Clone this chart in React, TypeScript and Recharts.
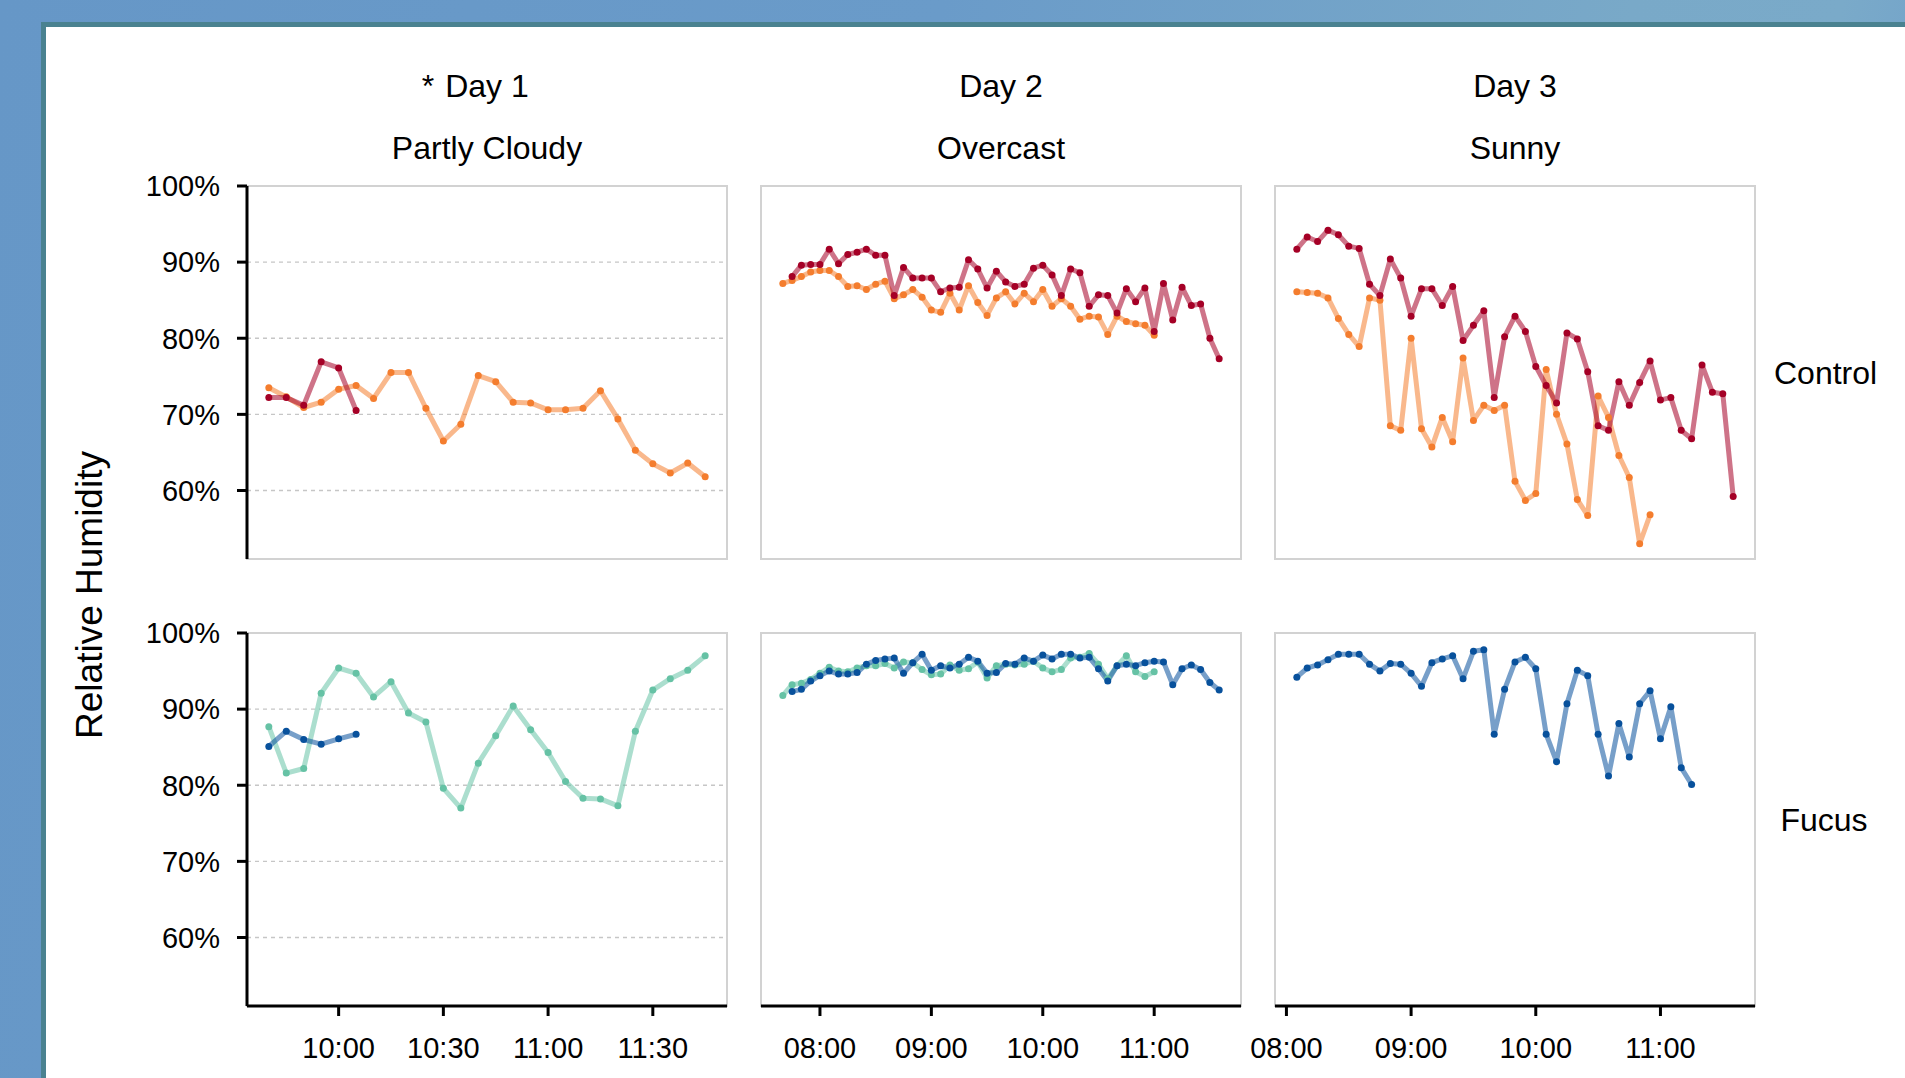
import React from 'react';
import { LineChart, Line, XAxis, YAxis, CartesianGrid, ReferenceArea } from 'recharts';

// ---------- data ----------
const day1Times = ['09:40','09:45','09:50','09:55','10:00','10:05','10:10','10:15','10:20','10:25','10:30','10:35','10:40','10:45','10:50','10:55','11:00','11:05','11:10','11:15','11:20','11:25','11:30','11:35','11:40','11:45'];
const day2Times = ['07:40','07:45','07:50','07:55','08:00','08:05','08:10','08:15','08:20','08:25','08:30','08:35','08:40','08:45','08:50','08:55','09:00','09:05','09:10','09:15','09:20','09:25','09:30','09:35','09:40','09:45','09:50','09:55','10:00','10:05','10:10','10:15','10:20','10:25','10:30','10:35','10:40','10:45','10:50','10:55','11:00','11:05','11:10','11:15','11:20','11:25','11:30','11:35'];
const day3Times = ['08:05','08:10','08:15','08:20','08:25','08:30','08:35','08:40','08:45','08:50','08:55','09:00','09:05','09:10','09:15','09:20','09:25','09:30','09:35','09:40','09:45','09:50','09:55','10:00','10:05','10:10','10:15','10:20','10:25','10:30','10:35','10:40','10:45','10:50','10:55','11:00','11:05','11:10','11:15','11:20','11:25','11:30','11:35'];

const day1ControlA = [73.5, 72.3, 70.9, 71.6, 73.3, 73.8, 72.1, 75.5, 75.5, 70.8, 66.5, 68.7, 75.1, 74.3, 71.6, 71.5, 70.6, 70.6, 70.8, 73.1, 69.4, 65.3, 63.5, 62.3, 63.6, 61.8];
const day1ControlB = [72.2, 72.2, 71.2, 76.9, 76.1, 70.5];
const day1FucusA = [87.7, 81.6, 82.2, 92.1, 95.4, 94.7, 91.6, 93.6, 89.5, 88.3, 79.6, 77.0, 82.9, 86.5, 90.4, 87.3, 84.3, 80.5, 78.3, 78.2, 77.3, 87.1, 92.5, 94.0, 95.1, 97.0];
const day1FucusB = [85.1, 87.1, 86.0, 85.4, 86.1, 86.7];

const day2ControlA = [87.2, 87.6, 88.1, 88.7, 88.9, 88.9, 88.1, 86.8, 86.9, 86.4, 87.1, 87.5, 85.2, 85.7, 86.4, 85.4, 83.7, 83.4, 85.9, 83.7, 86.9, 84.7, 83.0, 85.3, 86.1, 84.5, 85.9, 84.8, 86.4, 84.2, 85.2, 84.2, 82.5, 82.9, 82.8, 80.5, 82.9, 82.2, 81.9, 81.7, 80.4];
const day2ControlB = [null, 88.1, 89.6, 89.7, 89.7, 91.7, 89.8, 91.0, 91.3, 91.7, 90.9, 90.9, 85.6, 89.3, 87.9, 87.9, 87.9, 86.1, 86.6, 86.7, 90.3, 89.1, 86.6, 88.8, 87.4, 86.8, 87.1, 89.2, 89.6, 88.3, 85.6, 89.1, 88.6, 84.2, 85.7, 85.6, 83.3, 86.5, 84.8, 86.6, 80.9, 87.2, 82.4, 86.7, 84.3, 84.5, 80.0, 77.3];
const day2FucusA = [91.8, 93.2, 93.4, 93.9, 94.7, 95.5, 95.0, 94.9, 95.4, 95.7, 95.7, 96.0, 95.4, 96.2, 96.1, 95.2, 94.5, 94.6, 95.8, 95.1, 95.3, 96.2, 94.1, 95.7, 95.9, 95.8, 95.9, 96.3, 95.4, 94.9, 95.2, 96.7, 96.8, 97.3, 95.9, 94.0, 95.7, 97.0, 94.9, 94.3, 94.9];
const day2FucusB = [null, 92.3, 92.6, 93.7, 94.4, 95.0, 94.6, 94.6, 94.8, 95.9, 96.4, 96.6, 96.7, 94.7, 96.1, 97.2, 95.1, 95.7, 95.4, 95.9, 96.8, 96.3, 94.7, 94.8, 96.0, 95.9, 96.7, 96.3, 97.1, 96.6, 97.2, 97.2, 96.7, 96.8, 95.3, 93.7, 95.7, 95.9, 95.7, 96.1, 96.3, 96.2, 93.2, 95.3, 95.8, 95.2, 93.5, 92.5];

const day3ControlA = [86.1, 86.0, 85.9, 85.3, 82.6, 80.5, 78.9, 85.3, 85.0, 68.5, 67.9, 80.0, 68.1, 65.7, 69.6, 66.4, 77.4, 69.2, 71.2, 70.5, 71.2, 61.2, 58.7, 59.6, 75.9, 70.0, 66.1, 58.8, 56.7, 72.4, 69.6, 64.6, 61.7, 53.0, 56.8];
const day3ControlB = [91.7, 93.3, 92.7, 94.2, 93.6, 92.1, 91.8, 87.1, 85.6, 90.4, 87.9, 82.9, 86.5, 86.5, 84.3, 86.8, 79.7, 81.7, 83.6, 72.2, 80.2, 82.9, 80.9, 76.3, 73.8, 71.5, 80.7, 79.9, 75.6, 68.5, 67.9, 74.3, 71.2, 74.2, 77.0, 71.9, 72.2, 67.9, 66.8, 76.5, 72.9, 72.7, 59.2];
const day3FucusA: (number | null)[] = [];
const day3FucusB = [94.2, 95.4, 95.8, 96.5, 97.2, 97.2, 97.2, 95.9, 95.0, 96.0, 95.9, 94.7, 93.0, 96.1, 96.6, 97.0, 94.0, 97.6, 97.8, 86.7, 92.6, 96.2, 96.8, 95.3, 86.7, 83.1, 90.7, 95.1, 94.4, 86.7, 81.2, 88.1, 83.7, 90.7, 92.4, 86.1, 90.3, 82.3, 80.1];

const day1TickLabels = ['10:00', '10:30', '11:00', '11:30'];
const day2TickLabels = ['08:00', '09:00', '10:00', '11:00'];
const day3TickLabels = ['08:00', '09:00', '10:00', '11:00'];
const humidityTicks = [60, 70, 80, 90, 100];

const dayTitles = ['Day 1', 'Day 2', 'Day 3'];
const weatherLabels = ['Partly Cloudy', 'Overcast', 'Sunny'];
const rowLabels = ['Control', 'Fucus'];

// ---------- style ----------
const FONT = '"Liberation Sans", Arial, Helvetica, sans-serif';
const ORANGE = '#f47d2e';
const RED = '#a50026';
const TEAL = '#66c2a5';
const BLUE = '#08519c';

const PLOT_W = 480;
const PLOT_H = 373;
const COL_X = [247, 761, 1275];
const ROW_Y = [186, 633];
const Y_W = 120;
const X_H = 80;
const TOP_M = 30;
const Y_DOMAIN: [number, number] = [51, 100];

const toMin = (s: string) => {
  const [h, m] = s.split(':').map(Number);
  return h * 60 + m;
};
const fmt = (v: number) => {
  const h = Math.floor(v / 60);
  const m = Math.round(v - h * 60);
  return `${String(h).padStart(2, '0')}:${String(m).padStart(2, '0')}`;
};

const YTick = (props: any) => {
  const { x, y, payload } = props;
  return (
    <text
      x={x}
      y={y}
      dy="0.355em"
      textAnchor="end"
      fill="#000"
      fontSize={29}
      fontFamily={FONT}
    >
      {`${payload.value}%`}
    </text>
  );
};

type PanelCfg = {
  col: number;
  row: number;
  times: string[];
  a: (number | null)[];
  b: (number | null)[];
  colorA: string;
  colorB: string;
  ticks: string[];
};

const panels: PanelCfg[] = [
  { col: 0, row: 0, times: day1Times, a: day1ControlA, b: day1ControlB, colorA: ORANGE, colorB: RED, ticks: day1TickLabels },
  { col: 1, row: 0, times: day2Times, a: day2ControlA, b: day2ControlB, colorA: ORANGE, colorB: RED, ticks: day2TickLabels },
  { col: 2, row: 0, times: day3Times, a: day3ControlA, b: day3ControlB, colorA: ORANGE, colorB: RED, ticks: day3TickLabels },
  { col: 0, row: 1, times: day1Times, a: day1FucusA, b: day1FucusB, colorA: TEAL, colorB: BLUE, ticks: day1TickLabels },
  { col: 1, row: 1, times: day2Times, a: day2FucusA, b: day2FucusB, colorA: TEAL, colorB: BLUE, ticks: day2TickLabels },
  { col: 2, row: 1, times: day3Times, a: day3FucusA, b: day3FucusB, colorA: TEAL, colorB: BLUE, ticks: day3TickLabels },
];

function Panel({ p }: { p: PanelCfg }) {
  const data = p.times.map((t, i) => ({
    t: toMin(t),
    a: p.a[i] ?? null,
    b: p.b[i] ?? null,
  }));
  const ts = data.map((d) => d.t);
  const mn = Math.min(...ts);
  const mx = Math.max(...ts);
  const pad = (mx - mn) * 0.05;
  const domain: [number, number] = [mn - pad, mx + pad];
  const isBottom = p.row === 1;
  const isLeft = p.col === 0;
  const width = PLOT_W + Y_W + 10;
  const height = TOP_M + PLOT_H + (isBottom ? X_H : 10);
  const axisStroke = { stroke: '#000', strokeWidth: 3 };
  const tickStyle = { fill: '#000', fontSize: 29, fontFamily: FONT };
  const lineProps = (key: string, color: string) => ({
    type: 'linear' as const,
    dataKey: key,
    stroke: color,
    strokeOpacity: 0.55,
    strokeWidth: 5,
    strokeLinejoin: 'round' as const,
    dot: { r: 3.5, fill: color, fillOpacity: 1, stroke: 'none', strokeWidth: 0, strokeOpacity: 1 },
    activeDot: false as const,
    isAnimationActive: false,
    connectNulls: false,
  });
  return (
    <div style={{ position: 'absolute', left: COL_X[p.col] - Y_W, top: ROW_Y[p.row] - TOP_M }}>
      <LineChart
        width={width}
        height={height}
        data={data}
        margin={{ top: TOP_M, right: 10, bottom: isBottom ? 0 : 10, left: 0 }}
      >
        <CartesianGrid vertical={false} stroke="#c6c6c6" strokeDasharray="4 4" strokeWidth={1.3} />
        <ReferenceArea
          x1={domain[0]}
          x2={domain[1]}
          y1={Y_DOMAIN[0]}
          y2={Y_DOMAIN[1]}
          fill="none"
          fillOpacity={0}
          stroke="#d2d2d2"
          strokeWidth={2}
          ifOverflow="visible"
        />
        <XAxis
          type="number"
          dataKey="t"
          domain={domain}
          ticks={p.ticks.map(toMin)}
          tickFormatter={fmt}
          hide={!isBottom}
          height={X_H}
          tickSize={10}
          tickMargin={21}
          axisLine={axisStroke}
          tickLine={axisStroke}
          tick={tickStyle}
          allowDataOverflow
        />
        <YAxis
          type="number"
          domain={Y_DOMAIN}
          ticks={humidityTicks}
          width={Y_W}
          tickSize={10}
          tickMargin={17}
          axisLine={isLeft ? axisStroke : false}
          tickLine={isLeft ? axisStroke : false}
          tick={isLeft ? <YTick /> : false}
          allowDataOverflow
        />
        <Line {...lineProps('a', p.colorA)} />
        <Line {...lineProps('b', p.colorB)} />
      </LineChart>
    </div>
  );
}

export default function App() {
  return (
    <div
      style={{
        position: 'absolute',
        left: 0,
        top: 0,
        width: 1905,
        height: 1078,
        overflow: 'hidden',
        fontFamily: FONT,
        background: 'linear-gradient(100deg, #6697c7 0%, #6a9bc9 45%, #79a9c8 78%, #7aaac9 88%, #6a9bcb 100%)',
      }}
    >
      <div
        style={{
          position: 'absolute',
          left: 41,
          top: 22,
          width: 1905,
          height: 1100,
          background: '#fff',
          borderTop: '5px solid #4a8290',
          borderLeft: '5px solid #4a8290',
        }}
      />
      {dayTitles.map((t, i) => (
        <div
          key={t}
          style={{
            position: 'absolute',
            left: COL_X[i],
            top: 86 - 16,
            width: PLOT_W,
            textAlign: 'center',
            fontSize: 32,
            lineHeight: '32px',
            color: '#000',
          }}
        >
          <span style={{ position: 'relative' }}>
            {i === 0 && (
              <span style={{ position: 'absolute', right: '100%', paddingRight: 11, whiteSpace: 'pre' }}>*</span>
            )}
            {t}
          </span>
        </div>
      ))}
      {weatherLabels.map((t, i) => (
        <div
          key={t}
          style={{
            position: 'absolute',
            left: COL_X[i],
            top: 148 - 16,
            width: PLOT_W,
            textAlign: 'center',
            fontSize: 32,
            lineHeight: '32px',
            color: '#000',
          }}
        >
          {t}
        </div>
      ))}
      {rowLabels.map((t, i) => (
        <div
          key={t}
          style={{
            position: 'absolute',
            left: 1774,
            top: ROW_Y[i] + PLOT_H / 2 - 16,
            width: 100,
            textAlign: 'center',
            fontSize: 32,
            lineHeight: '32px',
            color: '#000',
          }}
        >
          {t}
        </div>
      ))}
      <div
        style={{
          position: 'absolute',
          left: 90 - 200,
          top: 595 - 20,
          width: 400,
          height: 40,
          lineHeight: '40px',
          textAlign: 'center',
          fontSize: 37,
          color: '#000',
          transform: 'rotate(-90deg)',
        }}
      >
        Relative Humidity
      </div>
      {panels.map((p) => (
        <Panel key={`${p.col}-${p.row}`} p={p} />
      ))}
    </div>
  );
}
